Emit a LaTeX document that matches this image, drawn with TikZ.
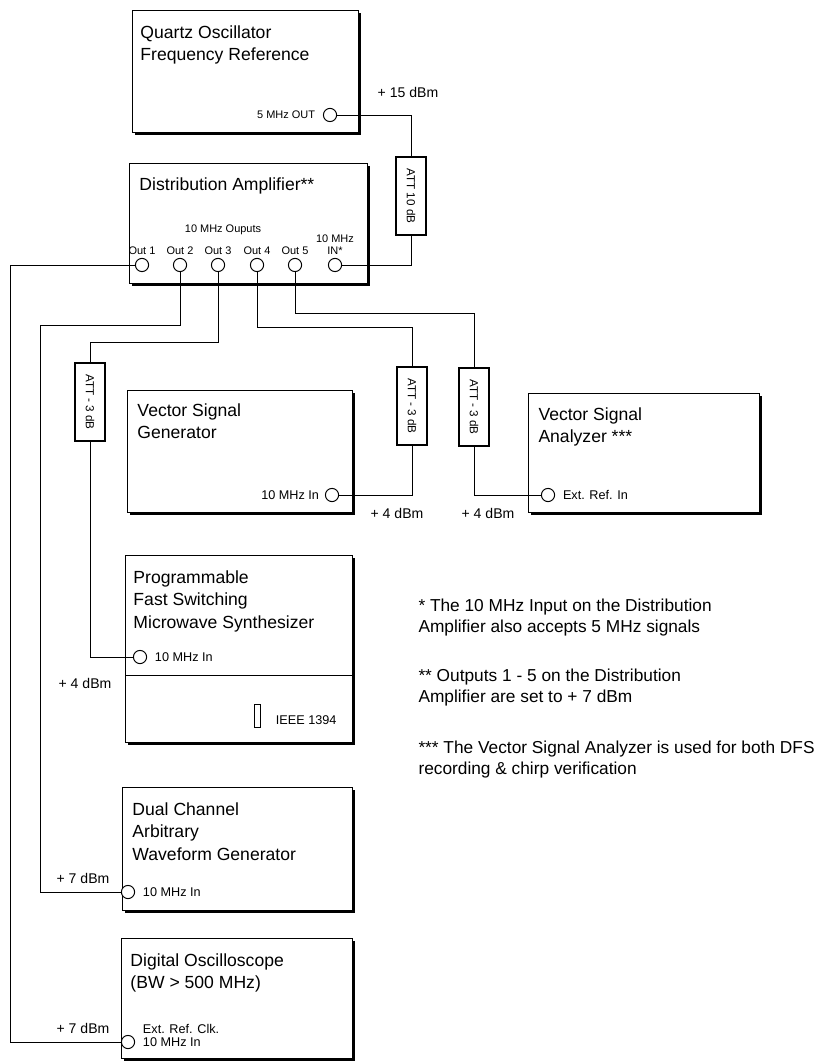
\documentclass[tikz,border=0pt]{standalone}
\usepackage{fontspec}
\setmainfont{Liberation Sans}
\usetikzlibrary{shadows,positioning}

\tikzset{
  instr/.style={draw, fill=white, line width=0.9pt, anchor=north west, inner sep=0pt,
    general shadow={fill=black, shadow xshift=1.6pt, shadow yshift=-1.6pt}},
  title/.style={anchor=north west, align=left, inner sep=0pt,
    font=\fontsize{12.5}{16}\selectfont},
  port/.style={draw, circle, fill=white, minimum size=0.33cm, inner sep=0pt},
  att/.style={draw, fill=white, rotate=-90, line width=1.2pt, minimum width=1.95cm,
    minimum height=0.75cm, inner sep=0pt, font=\fontsize{8.3}{9}\selectfont},
  tiny/.style={inner sep=1pt, font=\fontsize{7.8}{9}\selectfont},
  lbl/.style={inner sep=1pt, font=\fontsize{9}{10.5}\selectfont},
  lvl/.style={inner sep=0pt, font=\fontsize{10}{12}\selectfont},
  note/.style={anchor=north west, align=left, inner sep=0pt,
    font=\fontsize{12.3}{15.6}\selectfont}
}

\begin{document}
\begin{tikzpicture}[x=0.025cm, y=-0.025cm, line width=0.7pt]
\useasboundingbox (0,0) rectangle (820,1062);

% instruments
\node[instr, minimum width=5.65cm, minimum height=3.05cm] (quartz) at (132,10) {};
\node[title] (quartzt) at (140,25) {Quartz Oscillator\\Frequency Reference};

\node[instr, minimum width=5.95cm, minimum height=3.0cm] (distamp) at (129,163) {};
\node[title] (distampt) at (139,177) {Distribution Amplifier**};

\node[instr, minimum width=5.625cm, minimum height=3.05cm] (vsg) at (127,390) {};
\node[title] (vsgt) at (137,403) {Vector Signal\\Generator};

\node[instr, minimum width=5.775cm, minimum height=2.975cm] (vsa) at (528,393) {};
\node[title] (vsat) at (538,407) {Vector Signal\\Analyzer ***};

\node[instr, minimum width=5.675cm, minimum height=4.675cm] (synth) at (125,555) {};
\node[title] (syntht) at (133,570) {Programmable\\Fast Switching\\Microwave Synthesizer};
\draw (synth.west |- 0,675) -- (synth.east |- 0,675);
\node[draw, line width=0.5pt, minimum width=0.15cm, minimum height=0.57cm, inner sep=0pt] (fw) at (257,716) {};
\node[lbl, anchor=west] (fwl) at (274,720) {IEEE 1394};

\node[instr, minimum width=5.75cm, minimum height=3.075cm] (awg) at (122,787) {};
\node[title] (awgt) at (132,802) {Dual Channel\\Arbitrary\\Waveform Generator};

\node[instr, minimum width=5.775cm, minimum height=3.0cm] (scope) at (121,938) {};
\node[title] (scopet) at (130,953) {Digital Oscilloscope\\(BW > 500 MHz)};

% ports
\node[port] (qout) at (330,115) {};
\node[tiny, left=1.5mm of qout] (qoutl) {5 MHz OUT};

\foreach \i/\x in {1/142,2/180,3/218,4/257,5/295}{
  \node[port] (out\i) at (\x,265) {};
  \node[tiny, above=1pt of out\i] (out\i l) {Out \i};
}
\node[port] (din) at (335,265) {};
\node[tiny, align=center, above=1pt of din, font=\fontsize{7.8}{8.5}\selectfont] (dinl) {10 MHz\\IN*};
\node[tiny] (outs) at (223,230) {10 MHz Ouputs};

\node[port] (vsgin) at (332,495) {};
\node[lbl, left=1mm of vsgin] (vsginl) {10 MHz In};

\node[port] (vsain) at (548,495) {};
\node[lbl, right=1.5mm of vsain] (vsainl) {Ext. Ref. In};

\node[port] (synin) at (140,657) {};
\node[lbl, right=1.5mm of synin] (syninl) {10 MHz In};

\node[port] (awgin) at (128,892) {};
\node[lbl, right=1.5mm of awgin] (awginl) {10 MHz In};

\node[port] (scopein) at (128,1042) {};
\node[lbl, right=1.5mm of scopein] (scopeinl) {10 MHz In};
\node[lbl, anchor=south west] (scopeclk) at (scopeinl.north west) {Ext. Ref. Clk.};

% attenuators
\node[att] (att10) at (411,196) {ATT 10 dB};
\node[att] (att3a) at (90,402) {ATT - 3 dB};
\node[att] (att3b) at (412,406) {ATT - 3 dB};
\node[att] (att3c) at (474,407) {ATT - 3 dB};

% bends
\coordinate (bend1) at (10,265);
\coordinate (bend2) at (40,325);
\coordinate (bend3) at (90,342);
\coordinate (bend4) at (412,327);
\coordinate (bend5) at (474,313);

% cabling
\draw (qout) -| (att10);
\draw (att10) |- (din);
\draw (out1) -- (bend1) |- (scopein);
\draw (out2) |- (bend2) |- (awgin);
\draw (out3) |- (bend3) -- (att3a);
\draw (att3a) |- (synin);
\draw (out4) |- (bend4) -- (att3b);
\draw (att3b) |- (vsgin);
\draw (out5) |- (bend5) -- (att3c);
\draw (att3c) |- (vsain);

% levels
\node[lvl] (lv15) at (408,92) {+ 15 dBm};
\node[lvl] (lv4a) at (397,513) {+ 4 dBm};
\node[lvl] (lv4b) at (488,513) {+ 4 dBm};
\node[lvl] (lv4c) at (85,683) {+ 4 dBm};
\node[lvl] (lv7a) at (83,878) {+ 7 dBm};
\node[lvl] (lv7b) at (83,1028) {+ 7 dBm};

% notes
\node[note] (note1) at (418,598) {* The 10 MHz Input on the Distribution\\Amplifier also accepts 5 MHz signals};
\node[note] (note2) at (418,668) {** Outputs 1 - 5 on the Distribution\\Amplifier are set to + 7 dBm};
\node[note] (note3) at (418,740) {*** The Vector Signal Analyzer is used for both DFS\\recording \& chirp verification};
\end{tikzpicture}
\end{document}
